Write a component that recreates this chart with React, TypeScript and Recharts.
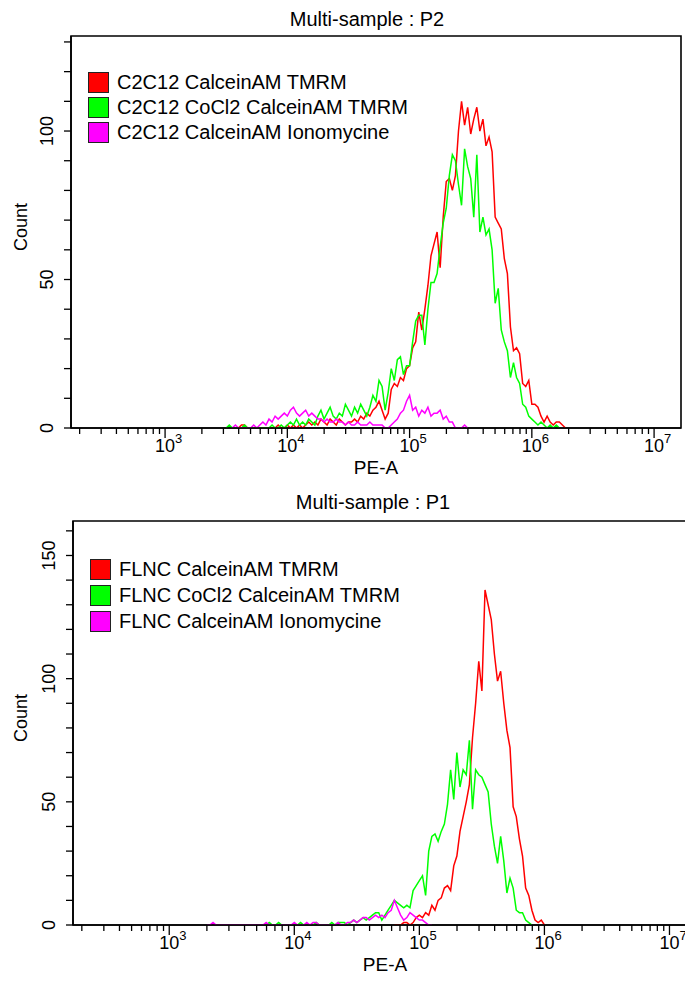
import React from 'react';
import { LineChart, Line, XAxis, YAxis, Legend, ReferenceArea } from 'recharts';

// histogram channels are 0.025 decade wide on the PE-A log axis
const STEP = 0.025;

const xMin = 170;
const xMax = 1.66e7;
const decades = [1e3, 1e4, 1e5, 1e6, 1e7];
const minorSteps = [2, 3, 4, 5, 6, 7, 8, 9];

const colors = ['#ff0000', '#00ff00', '#ff00ff'];
const p2Names = ['C2C12 CalceinAM TMRM', 'C2C12 CoCl2 CalceinAM TMRM', 'C2C12 CalceinAM Ionomycine'];
const p1Names = ['FLNC CalceinAM TMRM', 'FLNC CoCl2 CalceinAM TMRM', 'FLNC CalceinAM Ionomycine'];

const p2YTicks = [0, 10, 20, 30, 40, 50, 60, 70, 80, 90, 100, 110, 120, 130];
const p1YTicks = [0, 10, 20, 30, 40, 50, 60, 70, 80, 90, 100, 110, 120, 130, 140, 150, 160];

// P2 : C2C12
const p2RedStart = 3.6;
const p2Red = [
  0, 1, 1, 0, 0, 0, 0, 0, 0, 0, 0, 0, 0, 1, 0, 0, 1, 0, 1, 0,
  1, 0, 1, 2, 1, 2, 1, 3, 2, 1, 3, 2, 1, 3, 2, 1, 2, 2, 3, 2,
  4, 3, 5, 4, 6, 7, 9, 6, 3, 5, 13, 15, 14, 17, 16, 20, 21, 27, 29, 39,
  33, 40, 48, 58, 62, 66, 54, 71, 83, 84, 80, 85, 100, 110, 102, 108, 99, 104, 108, 100,
  104, 95, 98, 93, 71, 69, 67, 57, 52, 34, 26, 27, 25, 15, 14, 16, 8, 8, 7, 4,
  2, 4, 2, 1, 2, 2, 1, 0,
];
const p2GreenStart = 3.5;
const p2Green = [
  0, 1, 0, 0, 0, 0, 1, 0, 0, 0, 0, 0, 0, 0, 0, 1, 0, 0, 1, 0,
  1, 2, 1, 3, 1, 2, 1, 3, 2, 1, 4, 6, 3, 5, 7, 4, 3, 5, 4, 8,
  6, 4, 7, 5, 8, 6, 4, 7, 11, 9, 16, 14, 6, 12, 20, 16, 23, 24, 18, 21,
  21, 29, 36, 38, 38, 28, 40, 49, 49, 52, 61, 69, 74, 85, 92, 90, 82, 75, 94, 88,
  84, 71, 92, 66, 71, 65, 67, 60, 42, 47, 33, 29, 26, 17, 22, 17, 15, 8, 7, 4,
  3, 2, 1, 2, 1, 0, 1, 0, 1, 0,
];
const p2MagentaStart = 3.55;
const p2Magenta = [
  0, 1, 0, 0, 0, 0, 0, 1, 0, 1, 2, 1, 3, 2, 4, 3, 4, 5, 4, 6,
  7, 5, 4, 5, 6, 4, 5, 4, 3, 3, 2, 3, 2, 2, 3, 2, 2, 1, 2, 1,
  1, 2, 1, 1, 1, 2, 1, 1, 1, 1, 0, 0, 1, 2, 3, 5, 6, 9, 11, 6,
  7, 4, 6, 5, 7, 4, 5, 5, 6, 3, 4, 2, 2, 0, 0, 0, 1, 0,
];

// P1 : FLNC
const p1RedStart = 4.8;
const p1Red = [
  0, 0, 0, 1, 1, 0, 1, 3, 4, 3, 5, 4, 8, 6, 10, 11, 15, 16, 14, 24,
  28, 38, 44, 50, 57, 76, 90, 107, 95, 136, 130, 124, 110, 99, 103, 90, 79, 72, 48, 44,
  35, 28, 15, 12, 6, 2, 1, 2, 0,
];
const p1GreenStart = 3.75;
const p1Green = [
  0, 0, 1, 0, 0, 1, 0, 0, 0, 0, 0, 0, 1, 0, 0, 0, 0, 1, 0, 0,
  0, 0, 1, 0, 1, 1, 1, 0, 1, 2, 1, 2, 3, 2, 3, 4, 5, 5, 2, 4,
  6, 8, 10, 9, 8, 7, 8, 7, 14, 16, 18, 20, 12, 30, 36, 37, 34, 38, 41, 49,
  63, 51, 70, 56, 63, 61, 75, 47, 63, 61, 60, 57, 54, 41, 32, 25, 36, 26, 13, 19,
  15, 6, 5, 5, 2, 1, 0,
];
const p1MagentaStart = 3.3;
const p1Magenta = [
  0, 0, 1, 0, 0, 0, 0, 0, 0, 0, 0, 0, 0, 0, 0, 0, 0, 0, 0, 1,
  0, 0, 0, 0, 0, 0, 0, 0, 1, 0, 0, 0, 1, 0, 1, 1, 0, 0, 0, 0,
  0, 0, 1, 0, 0, 1, 1, 2, 1, 2, 3, 3, 2, 3, 4, 3, 4, 3, 5, 6,
  10, 7, 4, 2, 3, 5, 4, 3, 2, 2, 1, 0, 0,
];

const toPoints = (start: number, counts: number[]) =>
  counts.map((count, i) => ({ pe: Math.pow(10, start + i * STEP), count }));

const xTicks: number[] = [
  ...minorSteps.map((m) => m * 100),
  ...decades.slice(0, -1).flatMap((d) => [d, ...minorSteps.map((m) => m * d)]),
  decades[decades.length - 1],
];

const LogTick = (props: any) => {
  const { x, y, payload } = props;
  const exp = Math.log10(payload.value);
  const major = Math.abs(exp - Math.round(exp)) < 1e-6;
  return (
    <g>
      <line x1={x} y1={y} x2={x} y2={y + (major ? 10 : 6)} stroke="#000" strokeWidth={1.3} />
      {major && (
        <text x={x - 10} y={y + 24} fontSize={18} fill="#000">
          10
          <tspan dy={-9} fontSize={13}>
            {Math.round(exp)}
          </tspan>
        </text>
      )}
    </g>
  );
};

const CountTick = (props: any) => {
  const { x, y, payload } = props;
  if (payload.value % 50 !== 0) return <g />;
  const bx = x - 11;
  return (
    <text x={bx} y={y} transform={`rotate(-90, ${bx}, ${y})`} textAnchor="middle" fontSize={18} fill="#000">
      {payload.value}
    </text>
  );
};

const countLabel = (props: any) => {
  const { viewBox } = props;
  const cx = viewBox.x + 27;
  const cy = viewBox.y + viewBox.height / 2 - 5;
  return (
    <text x={cx} y={cy} transform={`rotate(-90, ${cx}, ${cy})`} textAnchor="middle" fontSize={18} fill="#000">
      Count
    </text>
  );
};

const peLabel = (props: any) => {
  const { viewBox } = props;
  return (
    <text x={viewBox.x + viewBox.width / 2} y={viewBox.y + 46} textAnchor="middle" fontSize={19} fill="#000">
      PE-A
    </text>
  );
};

const SwatchLegend = (props: any) => (
  <div>
    {props.payload.map((e: any) => (
      <div key={e.value} style={{ display: 'flex', alignItems: 'center', height: props.rowHeight }}>
        <span
          style={{
            width: 19,
            height: 19,
            background: e.color,
            border: '1px solid #222',
            marginRight: 8,
            flex: 'none',
          }}
        />
        <span style={{ fontSize: 20, color: '#000', whiteSpace: 'nowrap' }}>{e.value}</span>
      </div>
    ))}
  </div>
);

interface PanelProps {
  width: number;
  height: number;
  margin: { top: number; right: number; left: number; bottom: number };
  yAxisWidth: number;
  xAxisHeight: number;
  yMax: number;
  yTicks: number[];
  names: string[];
  series: { pe: number; count: number }[][];
  legendPos: { left: number; top: number };
  legendRow: number;
}

const Panel: React.FC<PanelProps> = ({
  width,
  height,
  margin,
  yAxisWidth,
  xAxisHeight,
  yMax,
  yTicks,
  names,
  series,
  legendPos,
  legendRow,
}) => (
  <LineChart width={width} height={height} margin={margin}>
    <XAxis
      dataKey="pe"
      type="number"
      scale="log"
      domain={[xMin, xMax]}
      allowDataOverflow
      ticks={xTicks}
      interval={0}
      tickSize={0}
      tickMargin={0}
      tickLine={false}
      tick={<LogTick />}
      height={xAxisHeight}
      axisLine={{ stroke: '#000', strokeWidth: 1.6 }}
      label={{ value: 'PE-A', content: peLabel }}
    />
    <YAxis
      type="number"
      domain={[0, yMax]}
      allowDataOverflow
      ticks={yTicks}
      interval={0}
      tickSize={7}
      tickMargin={0}
      tickLine={{ stroke: '#000', strokeWidth: 1.3 }}
      tick={<CountTick />}
      width={yAxisWidth}
      axisLine={{ stroke: '#000', strokeWidth: 1.6 }}
      label={{ value: 'Count', content: countLabel }}
    />
    <ReferenceArea
      x1={xMin}
      x2={xMax}
      y1={0}
      y2={yMax}
      fill="none"
      stroke="#000"
      strokeWidth={1.6}
      ifOverflow="visible"
    />
    <Legend
      layout="vertical"
      align="center"
      verticalAlign="middle"
      itemSorter={(item: any) => names.indexOf(item.value)}
      wrapperStyle={{ left: legendPos.left, top: legendPos.top, width: 340 }}
      content={<SwatchLegend rowHeight={legendRow} />}
    />
    {series.map((pts, i) => (
      <Line
        key={names[i]}
        data={pts}
        dataKey="count"
        name={names[i]}
        type="linear"
        stroke={colors[i]}
        strokeWidth={1.5}
        dot={false}
        activeDot={false}
        isAnimationActive={false}
      />
    ))}
  </LineChart>
);

const titleStyle: React.CSSProperties = {
  position: 'absolute',
  left: 0,
  fontSize: 20,
  lineHeight: '20px',
  textAlign: 'center',
  color: '#000',
};

export default function App() {
  const p2Series = [toPoints(p2RedStart, p2Red), toPoints(p2GreenStart, p2Green), toPoints(p2MagentaStart, p2Magenta)];
  const p1Series = [toPoints(p1RedStart, p1Red), toPoints(p1GreenStart, p1Green), toPoints(p1MagentaStart, p1Magenta)];

  return (
    <div
      style={{
        position: 'absolute',
        left: 0,
        top: 0,
        width: 685,
        height: 989,
        overflow: 'hidden',
        background: '#fff',
        fontFamily: '"Liberation Sans", Arial, sans-serif',
      }}
    >
      <div style={{ ...titleStyle, top: 9, width: 734 }}>Multi-sample : P2</div>
      <div style={{ position: 'absolute', left: 0, top: 0 }}>
        <Panel
          width={685}
          height={480}
          margin={{ top: 36, right: 4, left: 0, bottom: 0 }}
          yAxisWidth={71}
          xAxisHeight={52}
          yMax={132}
          yTicks={p2YTicks}
          names={p2Names}
          series={p2Series}
          legendPos={{ left: 88, top: 70 }}
          legendRow={25}
        />
      </div>
      <div style={{ ...titleStyle, top: 492, width: 746 }}>Multi-sample : P1</div>
      <div style={{ position: 'absolute', left: 0, top: 480 }}>
        <Panel
          width={700}
          height={509}
          margin={{ top: 41, right: 3, left: 0, bottom: 0 }}
          yAxisWidth={73}
          xAxisHeight={64}
          yMax={164}
          yTicks={p1YTicks}
          names={p1Names}
          series={p1Series}
          legendPos={{ left: 90, top: 76 }}
          legendRow={26}
        />
      </div>
    </div>
  );
}
